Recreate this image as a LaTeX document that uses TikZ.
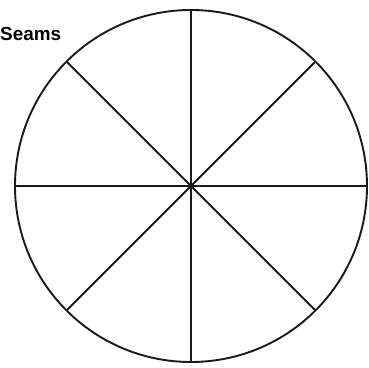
\documentclass[tikz,border=0pt]{standalone}
\usepackage{fontspec}
\setmainfont{Liberation Sans}
\begin{document}
\begin{tikzpicture}[x=1pt,y=1pt,
  seam/.style={line width=1.9pt,draw=black!90},
  lbl/.style={font=\bfseries\fontsize{18.9}{20}\selectfont,inner sep=0pt,anchor=base west}]
\useasboundingbox (0,0) rectangle (369,367);
\coordinate (c) at (191,181);
\draw[seam] (c) circle[radius=176];
\foreach \a in {0,45,...,315}{
  \draw[seam] (c) -- ++(\a:176);
}
\node[lbl] (t) at (0,326) {Seams};
\end{tikzpicture}
\end{document}
